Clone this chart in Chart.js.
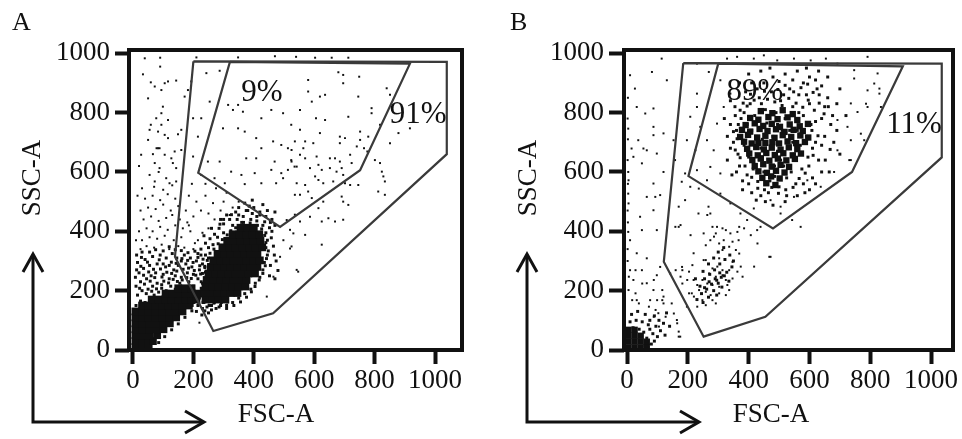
<!DOCTYPE html>
<html>
<head>
<meta charset="utf-8">
<style>
  html, body { margin: 0; padding: 0; background: #fff; }
  #wrap { position: relative; width: 962px; height: 439px; }
  canvas { position: absolute; top: 0; }
  #chartA { left: 0; }
  #chartB { left: 481px; }
</style>
<script src="https://cdn.jsdelivr.net/npm/chart.js@4.4.0/dist/chart.umd.min.js"></script>
</head>
<body>
<div id="wrap">
  <canvas id="chartA" width="481" height="439"></canvas>
  <canvas id="chartB" width="481" height="439"></canvas>
</div>
<script>
// ------------------------------------
// AXIS TICKS (FSC-A / SSC-A)
// ------------------------------------
const xTicks = [0, 200, 400, 600, 800, 1000];
const yTicks = [0, 200, 400, 600, 800, 1000];

// ------------------------------------
// PANEL A — gates, gate percentages, events
// ------------------------------------
const aGateOuter = [[200,973],[1039,971],[1039,660],[464,124],[266,64],[139,314],[200,973]];
const aGateInner = [[321,971],[917,965],[752,606],[487,415],[216,597],[321,971]];
const aGateText = ['9%', '91%'];
const aGateTextX = [427, 944];
const aGateTextY = [875, 801];

// densest events (two solid populations)
const aCore = [
  [8,10],[30,10],[52,10],
  [8,30],[30,30],[52,30],[66,30],
  [8,50],[32,50],[56,50],[80,50],
  [8,70],[31,70],[54,70],[77,70],[101,70],
  [8,90],[31,90],[54,90],[77,90],[100,90],[122,90],
  [8,110],[30,110],[52,110],[75,110],[98,110],[121,110],[143,110],
  [8,130],[30,130],[52,130],[75,130],[98,130],[120,130],[142,130],[164,130],
  [30,150],[52,150],[74,150],[96,150],[118,150],[140,150],[163,150],[185,150],
  [62,170],[84,170],[106,170],[128,170],[150,170],[172,170],[194,170],[210,170],
  [108,190],[130,190],[152,190],[174,190],[196,190],[218,190],
  [150,208],[172,208],[194,208],
  [240,170],[262,170],[284,170],[306,170],
  [236,192],[258,192],[280,192],[302,192],[324,192],[346,192],
  [240,214],[262,214],[284,214],[306,214],[328,214],[350,214],[372,214],
  [244,236],[266,236],[288,236],[310,236],[332,236],[354,236],[376,236],
  [250,258],[272,258],[294,258],[316,258],[338,258],[360,258],[382,258],[404,258],
  [258,280],[280,280],[302,280],[324,280],[346,280],[368,280],[390,280],[412,280],
  [266,302],[288,302],[310,302],[332,302],[354,302],[376,302],[398,302],[420,302],
  [280,324],[302,324],[324,324],[346,324],[368,324],[390,324],[412,324],
  [296,346],[318,346],[340,346],[362,346],[384,346],[406,346],[428,346],
  [312,368],[334,368],[356,368],[378,368],[400,368],[422,368],
  [330,390],[352,390],[374,390],[396,390],[418,390],
  [356,412],[378,412],[400,412]
];

// dense speckle around the populations
const aMid = [
  [110,200],[125,215],[140,205],[155,225],[170,210],[185,230],[200,215],[215,240],[230,225],
  [120,240],[140,250],[160,245],[180,260],[200,255],[220,270],[240,262],[135,270],[150,285],
  [175,290],[195,280],[210,300],[230,290],[250,310],[190,200],[205,190],[220,175],[235,160],
  [215,150],[200,160],[185,175],[170,190],[160,170],[230,140],[210,130],[245,145],[180,145],
  [260,150],[190,310],[170,320],[215,325],[160,300],[145,310],
  [225,340],[240,360],[255,375],[270,390],[285,410],[300,425],[320,440],[345,440],[365,450],
  [390,440],[410,435],[430,420],[440,395],[445,370],[440,345],[445,320],[435,295],[430,270],
  [420,245],[405,225],[390,205],[370,190],[350,175],[330,160],[310,150],[285,145],[260,135],
  [240,320],[250,345],[265,355],[280,380],[300,395],[330,420],[360,430],[395,460],[420,455],
  [455,430],[460,400],[465,350],[455,285],[375,470],[340,465],[310,455],[290,440],[260,410],
  [235,385],[350,480],[380,470],[400,480],[420,465],[440,450],[460,440],[370,495],[395,505],
  [430,490],[470,465],
  [10,150],[25,165],[40,160],[55,175],[70,185],[85,195],[15,185],[30,200],[50,205],[65,215],
  [80,225],[95,220],[10,215],[25,230],[45,240],[60,250],[75,260],[100,255],[20,260],[35,275],
  [55,285],[80,290],[100,290],[120,285],[15,295],[40,305],[65,315],[90,320],[110,310],[30,330],
  [130,325],[8,245],
  [85,25],[105,45],[128,68],[150,88],[172,110],[195,132],[218,155],
  [102,232],[118,226],[133,238],[147,231],[163,236],[178,244],[193,241],[208,252],[224,256],
  [96,246],[112,262],[128,258],[145,266],[166,272],[184,276],[203,268],[221,284],[238,278],
  [91,273],[108,280],[127,296],[143,292],[162,308],[181,302],[199,295],[215,312],[232,306],
  [57,232],[72,244],[38,222],[22,208],[44,190],[62,198],[78,206],[95,208],[35,252],[52,263],
  [68,272],[87,304],[48,296],[26,282],[12,270],[12,320],[28,312],[55,330],[75,338],[100,334],
  [120,348],[140,338],[160,335],[182,328],[205,333],[225,320],
  [196,150],[210,165],[225,190],[238,205],[226,208],[245,180],[252,165],[268,158],[290,150],
  [310,140],[275,140],[250,125],[228,118],[238,132],
  [228,200],[226,230],[230,258],[238,282],[246,302],[255,326],[268,340],[282,358],[296,372],
  [312,388],[324,402],[340,412],[366,430],[388,428],[412,420],[426,408],[436,386],[440,362],
  [448,334],[442,308],[438,284],[430,258],[418,236],[404,214],[392,196],[376,178],[356,162],
  [334,150],[312,162],[292,160],[270,162],[252,150],[232,160],[436,432],[452,412],[458,378],
  [468,320],[474,300],[480,268],[452,250],[470,240],[300,440],[326,456],[288,424],[350,455],
  [410,450],[385,485],[445,470],[470,420]
];

// scattered single events
const aSparse = [
  [39,983],[90,985],[210,986],[348,986],[90,955],[33,929],[59,902],[72,888],[105,899],[116,905],
  [143,908],[94,876],[50,848],[99,820],[94,798],[182,876],[171,854],[77,781],[116,775],[59,759],
  [94,759],[55,742],[83,736],[105,725],[50,708],[116,714],[149,727],[160,742],[78,680],[83,680],
  [88,680],[27,658],[66,660],[105,658],[127,646],[138,669],[160,674],[72,630],[88,613],[132,630],
  [143,613],[110,579],[72,568],[121,562],[143,568],
  [243,933],[287,941],[193,905],[226,781],[199,781],[215,719],[254,837],[199,652],[248,635],[226,590],
  [315,826],[331,809],[348,826],[364,803],[298,747],[348,747],[370,736],[425,781],[458,809],[497,798],
  [524,759],[408,714],[464,703],[491,691],[513,680],[425,680],[287,635],[375,646],[408,646],[469,635],
  [524,640],[325,601],[359,590],[403,596],[458,607],[491,596],[513,607],[535,618],[270,579],[304,562],
  [370,559],[425,562],[474,562],[497,579],
  [580,910],[680,936],[696,927],[696,899],[749,921],[580,871],[619,854],[636,860],[592,837],[746,854],
  [553,809],[606,781],[636,775],[713,786],[790,815],[790,798],[840,882],[851,860],[553,742],[619,731],
  [685,719],[702,714],[752,736],[779,719],[818,759],[536,703],[570,703],[597,697],[685,697],[741,686],
  [752,708],[564,680],[525,674],[525,635],[553,658],[570,646],[608,652],[652,646],[669,646],[685,635],
  [719,658],[724,630],[765,680],[776,669],[801,640],[818,630],[824,601],[829,585],[834,568],[812,534],
  [834,523],[879,731],[851,697],[917,747],[542,618],[586,613],[614,624],[625,607],[652,613],[674,601],
  [691,613],[696,590],[603,585],[542,562],[570,556],[614,573],[630,562],[663,568],[702,562],[719,556],
  [746,556],[536,523],[553,523],[580,534],[592,512],[614,478],[630,500],[691,517],[696,500],[713,489],
  [536,456],[553,433],[570,388],[625,433],[647,444],[669,433],[696,439],[625,355],[542,270],[525,349],
  [520,405],
  [443,180],[520,342],[547,264],[220,92],[465,247],[487,314],[498,370],[531,393],[509,438],[586,449],
  [25,340],[45,350],[70,345],[95,355],[120,340],[150,350],[170,345],[30,370],[55,380],[80,375],
  [105,385],[135,370],[160,380],[20,400],[45,410],[65,400],[90,415],[115,405],[140,420],[165,410],
  [35,440],[60,450],[85,435],[110,445],[130,455],[155,440],[180,430],[25,470],[50,480],[75,475],
  [100,490],[125,470],[150,485],[40,510],[65,520],[90,505],[115,525],[140,510],[30,545],[70,550],
  [100,540],[130,555],[55,590],[85,600],[20,620],[15,520],[175,470],[190,400],[205,360],[10,370],
  [200,340],[215,370],[230,395],[250,410],[185,420],[200,450],[225,470],[250,460],[270,440],[210,500],
  [240,520],[265,495],[185,520],[290,470],[300,500],[310,530],[275,545],[240,560],[195,560],[330,480],
  [350,500],[320,455],
  [603,985],[658,985],[713,985],[540,988],[470,990]
];

// ------------------------------------
// PANEL B — gates, gate percentages, events
// ------------------------------------
const bGateOuter = [[185,967],[1035,965],[1035,649],[455,112],[252,45],[121,297],[185,967]];
const bGateInner = [[300,965],[907,956],[740,600],[480,410],[202,586],[300,965]];
const bGateText = ['89%', '11%'];
const bGateTextX = [421, 944];
const bGateTextY = [879, 768];

const bCore = [
  [440,805],[478,798],[512,808],[545,795],
  [405,782],[432,776],[465,785],[495,778],[528,784],[560,775],
  [390,758],[420,764],[448,755],[476,762],[503,752],[535,760],[568,754],[595,762],
  [378,742],[405,736],[436,745],[462,738],[490,744],[518,735],[548,742],[578,738],
  [372,718],[398,725],[428,716],[455,722],[485,715],[512,724],[540,718],[570,723],[596,716],
  [385,702],[410,696],[432,698],[455,698],[478,700],[500,696],[528,703],[556,697],[585,701],
  [395,678],[425,684],[450,676],[476,682],[505,675],[532,683],[560,677],
  [402,662],[430,656],[458,664],[486,657],[514,663],[545,656],[572,662],
  [412,640],[440,646],[468,638],[496,645],[524,639],[552,644],
  [420,620],[448,626],[476,618],[505,624],[533,617],
  [432,602],[460,597],[490,604],[518,598],
  [445,580],[474,585],[502,578],
  [458,562],[488,556],
  [5,8],[25,8],[45,8],[65,10],[5,28],[25,28],[45,28],[65,28],[5,48],[25,48],[45,48],[5,68],[25,68]
];

const bMid = [
  [350,700],[360,740],[365,660],[370,620],[375,780],[385,800],[395,590],[400,560],[405,830],[415,610],
  [420,790],[430,545],[435,850],[440,680],[445,710],[450,600],[455,810],[460,765],[465,530],[470,640],
  [475,870],[480,720],[485,585],[490,800],[495,670],[500,550],[505,840],[510,740],[515,620],[520,780],
  [525,520],[530,700],[535,880],[540,600],[545,820],[550,660],[555,560],[560,740],[565,860],[570,690],
  [575,610],[580,790],[585,530],[590,720],[595,650],[600,830],[605,760],[610,580],[620,700],[625,880],
  [630,640],[640,780],[650,720],[660,850],[665,600],[330,640],[340,760],[345,590],[355,820],[380,540],
  [390,870],[410,900],[425,505],[450,900],[480,920],[500,905],[520,930],[545,910],[560,940],[580,900],
  [600,920],[620,910],[640,890],[470,570],[410,740],[385,690],[435,640],[505,640],[535,740],[565,800],
  [610,680],[580,560],[525,580],[455,500],[515,860],[590,860],[650,820],[670,760],[680,700],[400,650],
  [360,600],[340,680],[425,720],[495,760],[545,700],[575,660],[460,660],[485,620],[395,760],[430,770],
  [372,808],[395,822],[418,842],[442,830],[462,845],[486,836],[510,824],[532,848],[556,832],[578,818],
  [596,842],[616,808],[632,832],[648,796],[620,770],[608,740],[628,722],[640,690],[612,656],[598,620],
  [586,596],[566,578],[546,548],[522,540],[498,528],[476,548],[452,540],[430,568],[410,582],[388,620],
  [372,648],[356,674],[362,712],[350,736],[366,760],[356,790],[382,832],[406,862],[428,880],[452,872],
  [496,878],[520,892],[548,870],[572,884],[594,896],[612,868],[632,860],[662,820],[676,790],[690,740],
  [668,676],[652,640],[640,600],[620,560],[600,540],[560,520],[520,500],[480,488],[440,520],[410,530],
  [380,570],[330,720],[320,780],[340,840],[370,900],[400,930],[440,940],[470,950],[590,950],[630,940],
  [660,920],[700,880],[690,830],[720,790],[700,660],
  [290,240],[305,260],[270,230],[320,250],[285,200],[255,210],[300,225],
  [230,170],[245,190],[262,205],[278,222],[295,235],[310,245],[328,262],[345,280],[240,215],[255,240],
  [272,255],[288,270],[305,290],[322,305],[338,320],[225,240],[250,265],[268,290],[285,310],[300,330],
  [318,345],[350,300],[335,232],[312,212],[295,185],[268,178],[250,160],
  [60,15],[65,40],[55,60],[40,70],[20,75],[75,70],[85,55],[70,85],[50,95],[95,80],
  [90,30],[30,100],[10,95],[105,100],[110,65],[120,90],
  [80,20],[100,45],[75,100],[60,120],[35,130],[15,120],[90,115],[125,50],[130,125],[140,80]
];

const bSparse = [
  [10,926],[82,937],[114,982],[131,909],[32,819],[60,797],[87,752],[15,679],[54,679],[98,662],
  [21,651],[49,629],[5,572],[87,561],[65,516],[5,494],[87,471],[49,404],[98,404],[10,370],
  [32,326],[65,309],[10,269],[49,269],[98,252],[109,280],[21,236],[65,225],[87,202],[5,202],
  [32,168],[76,168],[120,157],[103,124],[164,101],[170,62],[175,45],[120,180],[147,157],[197,146],
  [213,191],[219,236],[181,280],[142,258],
  [26,881],[87,814],[4,746],[37,707],[87,724],[120,730],[65,673],[4,600],[120,600],[4,527],
  [93,516],[109,522],[43,449],[4,398],
  [2,300],[2,340],[3,430],[2,470],[3,560],[2,640],[3,710],[2,780],[3,850],
  [180,567],[191,505],[230,819],[153,707],[158,640],[170,415],[208,550],[235,460],[268,483],[252,393],
  [274,370],[296,415],[219,326],[252,303],[318,370],[340,393],[367,370],[395,438],[428,404],[472,314],
  [505,460],[543,438],
  [314,337],[336,348],[358,337],[369,325],[303,309],[347,297],[259,303],[281,275],[297,281],[314,269],
  [336,269],[363,264],[270,258],[292,247],[314,252],[325,236],[347,241],[248,236],[231,219],[264,224],
  [281,219],[303,213],[330,219],[237,202],[259,196],[275,185],[303,191],[325,185],[220,180],[248,168],
  [281,168],[231,146],[259,151],[292,157],[204,264],[215,286],[182,269],[198,236],[160,269],[176,247],
  [303,359],[286,382],[259,353],[314,410],[363,398],[385,410],[347,365],[407,387],[429,359],[468,314],
  [418,281],[380,247],[374,281],[336,202],[204,191],[182,224],[264,455],[281,415],[292,393],[176,421],
  [209,387],[369,415],[325,404],
  [17,168],[39,157],[72,146],[94,135],[116,168],[88,112],[127,112],[154,123],[165,90],[170,45],
  [105,79],[50,224],[88,236],[116,202],[28,191],[6,247],[28,269],[99,168],
  [230,965],[269,937],[230,864],[208,786],[241,752],[197,707],[225,673],[230,606],[191,595],[274,460],
  [170,483],[159,415],[236,544],
  [329,982],[362,988],[417,982],[450,993],[494,976],[549,982],[604,976],[654,982],[791,988],[692,965],
  [747,943],[824,932],[813,898],[830,864],[835,819],[736,831],[758,802],[692,775],[725,752],[736,707],
  [780,707],[692,673],[736,640],[681,600],[593,572],[637,550],[549,516],[472,505],[505,483],[417,477],
  [373,460],[340,494],[307,527],[263,572],[274,617],[307,595],[285,673],[263,707],[296,763],[318,819],
  [340,864],[307,909],[571,415],[439,415],
  [747,915],[786,830],[791,875],[769,729],[731,640],[791,819],[830,881]
];

// ------------------------------------
// HELPERS
// ------------------------------------
const SERIF = "'Liberation Serif', 'Times New Roman', serif";
const INK = "#111";

function pts(list) {
    return list.map(p => ({ x: p[0], y: p[1] }));
}

function gateSet(v) {
    return {
        data: pts(v),
        showLine: true,
        borderColor: "#3a3a3a",
        borderWidth: 2.2,
        pointRadius: 0,
        fill: false,
        tension: 0,
        order: 0,
        clip: 0
    };
}

function eventSet(v, r) {
    return {
        data: pts(v),
        showLine: false,
        pointStyle: "rect",
        pointRadius: r,
        pointHoverRadius: r,
        pointBackgroundColor: INK,
        pointBorderWidth: 0,
        order: 1,
        clip: 0
    };
}

// frame, gate percentages, panel letter, axis titles and arrows
const panelDeco = {
    id: "panelDeco",
    afterDatasetsDraw(chart, args, o) {
        const ctx = chart.ctx;
        const a = chart.chartArea;
        const xs = chart.scales.x, ys = chart.scales.y;
        ctx.save();
        ctx.fillStyle = INK;

        // gate percentages
        ctx.font = "31px " + SERIF;
        ctx.textAlign = "center";
        ctx.textBaseline = "alphabetic";
        o.text.forEach((t, i) => {
            ctx.fillText(t, xs.getPixelForValue(o.textX[i]), ys.getPixelForValue(o.textY[i]) + 11);
        });

        // plot frame
        ctx.strokeStyle = INK;
        ctx.lineWidth = 4;
        ctx.strokeRect(a.left, a.top, a.right - a.left, a.bottom - a.top);

        // panel letter
        ctx.textAlign = "left";
        ctx.font = "26px " + SERIF;
        ctx.fillText(o.letter, o.letterX, 30);

        // axis titles
        ctx.font = "27px " + SERIF;
        ctx.textAlign = "center";
        ctx.fillText("FSC-A", o.xTitleX, 422);
        ctx.save();
        ctx.translate(o.yTitleX, 178);
        ctx.rotate(-Math.PI / 2);
        ctx.fillText("SSC-A", 0, 9);
        ctx.restore();

        // corner arrows
        const ax = o.arrowX, ay = 422, top = 254, right = o.arrowRight;
        ctx.lineWidth = 3;
        ctx.lineJoin = "miter";
        ctx.beginPath();
        ctx.moveTo(ax, top + 2);
        ctx.lineTo(ax, ay);
        ctx.lineTo(right - 2, ay);
        ctx.stroke();
        ctx.beginPath();
        ctx.moveTo(ax - 10, top + 18);
        ctx.lineTo(ax, top);
        ctx.lineTo(ax + 10, top + 18);
        ctx.stroke();
        ctx.beginPath();
        ctx.moveTo(right - 19, ay - 11);
        ctx.lineTo(right, ay);
        ctx.lineTo(right - 19, ay + 11);
        ctx.stroke();

        ctx.restore();
    }
};

function tickFont() {
    return { family: SERIF, size: 27 };
}

// ------------------------------------
// PANEL BUILDER
// ------------------------------------
function makePanel(id, p) {
    return new Chart(document.getElementById(id), {
        type: "scatter",
        data: {
            datasets: [
                gateSet(p.outer), gateSet(p.inner),
                eventSet(p.core, p.coreR), eventSet(p.mid, 2.1), eventSet(p.sparse, 1.4)
            ]
        },
        options: {
            responsive: false,
            animation: false,
            devicePixelRatio: 1,
            events: [],
            layout: { padding: { left: 0, right: p.padRight, top: 50, bottom: 0 } },
            plugins: {
                legend: { display: false },
                tooltip: { enabled: false },
                panelDeco: p.deco
            },
            scales: {
                x: {
                    type: "linear",
                    min: p.xMin,
                    max: p.xMax,
                    afterBuildTicks: s => { s.ticks = xTicks.map(v => ({ value: v })); },
                    afterFit: s => { s.height = 89; },
                    border: { display: false },
                    grid: { drawOnChartArea: false, drawTicks: true, tickLength: 14, tickWidth: 4, tickColor: INK },
                    ticks: { font: tickFont(), color: INK, padding: 1, maxRotation: 0, autoSkip: false, callback: v => String(v) }
                },
                y: {
                    type: "linear",
                    min: 0,
                    max: 1011,
                    afterBuildTicks: s => { s.ticks = yTicks.map(v => ({ value: v })); },
                    afterFit: s => { s.width = p.yWidth; },
                    border: { display: false },
                    grid: { drawOnChartArea: false, drawTicks: true, tickLength: p.yTickLen, tickWidth: 4, tickColor: INK },
                    ticks: { font: tickFont(), color: INK, padding: 5, autoSkip: false, callback: v => String(v) }
                }
            }
        },
        plugins: [panelDeco]
    });
}

makePanel("chartA", {
    outer: aGateOuter, inner: aGateInner,
    core: aCore, coreR: 5.5, mid: aMid, sparse: aSparse,
    xMin: -13.2, xMax: 1089.4, yWidth: 129, yTickLen: 14, padRight: 19,
    deco: {
        text: aGateText, textX: aGateTextX, textY: aGateTextY,
        letter: "A", letterX: 12, xTitleX: 276, yTitleX: 31,
        arrowX: 33, arrowRight: 204
    }
});

makePanel("chartB", {
    outer: bGateOuter, inner: bGateInner,
    core: bCore, coreR: 4.5, mid: bMid, sparse: bSparse,
    xMin: -9.9, xMax: 1072, yWidth: 143, yTickLen: 15, padRight: 9,
    deco: {
        text: bGateText, textX: bGateTextX, textY: bGateTextY,
        letter: "B", letterX: 29, xTitleX: 290, yTitleX: 46,
        arrowX: 46, arrowRight: 218
    }
});
</script>
</body>
</html>
